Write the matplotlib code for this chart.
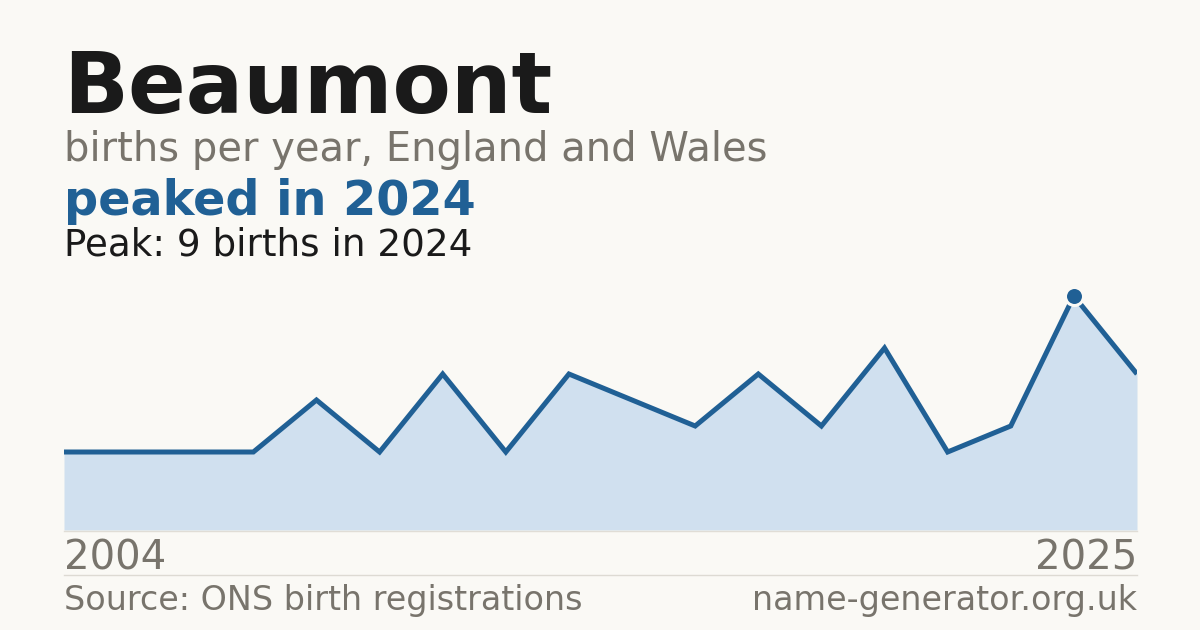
import matplotlib
matplotlib.use('Agg')
import matplotlib.pyplot as plt

# births per year (points are evenly spaced)
births = [3, 3, 3, 3, 5, 3, 6, 3, 6, 5, 4, 6, 4, 7, 3, 4, 9, 6]
first_year = '2004'
last_year = '2025'
peak_year = 2024
peak_value = 9

bg = '#faf9f5'
blue = '#206095'
fill_blue = '#d0e0ef'
grey = '#78746c'
dark = '#1a1a1a'

W, H = 1200, 630
fig = plt.figure(figsize=(W / 100, H / 100), dpi=100, facecolor=bg)

def fx(px):
    return px / W

def fy(py):
    return 1 - py / H

# plot area: 64..1137 px wide, 270..530 px high
ax = fig.add_axes([fx(64), fy(530), fx(1137 - 64), (530 - 270) / H])
ax.set_facecolor(bg)
xs = list(range(len(births)))
ax.fill_between(xs, births, 0, color=fill_blue, lw=0)
ax.plot(xs, births, color=blue, lw=3.6, solid_joinstyle='miter', solid_capstyle='butt')
ipeak = births.index(max(births))
ax.plot(ipeak, births[ipeak], 'o', ms=13, color=blue, mec=bg, mew=2.2, clip_on=False, zorder=5)
ax.set_xlim(0, len(births) - 1)
ax.set_ylim(0, 10)
ax.axis('off')

# faint baseline and separator
fig.add_artist(plt.Line2D([fx(64), fx(1137)], [fy(530.5), fy(530.5)], color='#e0ddd6', lw=1))
fig.add_artist(plt.Line2D([fx(64), fx(1137)], [fy(574.5), fy(574.5)], color='#dddad3', lw=1))

fig.text(fx(63), fy(113), 'Beaumont', fontsize=61.3, fontweight='bold', color=dark, va='baseline')
fig.text(fx(64), fy(161), 'births per year, England and Wales', fontsize=28.8, color=grey, va='baseline')
fig.text(fx(64), fy(215), f'peaked in {peak_year}', fontsize=34.4, fontweight='bold', color=blue, va='baseline')
fig.text(fx(64), fy(255), f'Peak: {peak_value} births in {peak_year}', fontsize=26.8, color=dark, va='baseline')

fig.text(fx(64), fy(570), first_year, fontsize=29, color=grey, va='baseline')
fig.text(fx(1137), fy(570), last_year, fontsize=29, color=grey, va='baseline', ha='right')

fig.text(fx(64), fy(610), 'Source: ONS birth registrations', fontsize=24, color=grey, va='baseline')
fig.text(fx(1137), fy(610), 'name-generator.org.uk', fontsize=24, color=grey, va='baseline', ha='right')

fig.savefig('out.png', dpi=100, facecolor=bg)
